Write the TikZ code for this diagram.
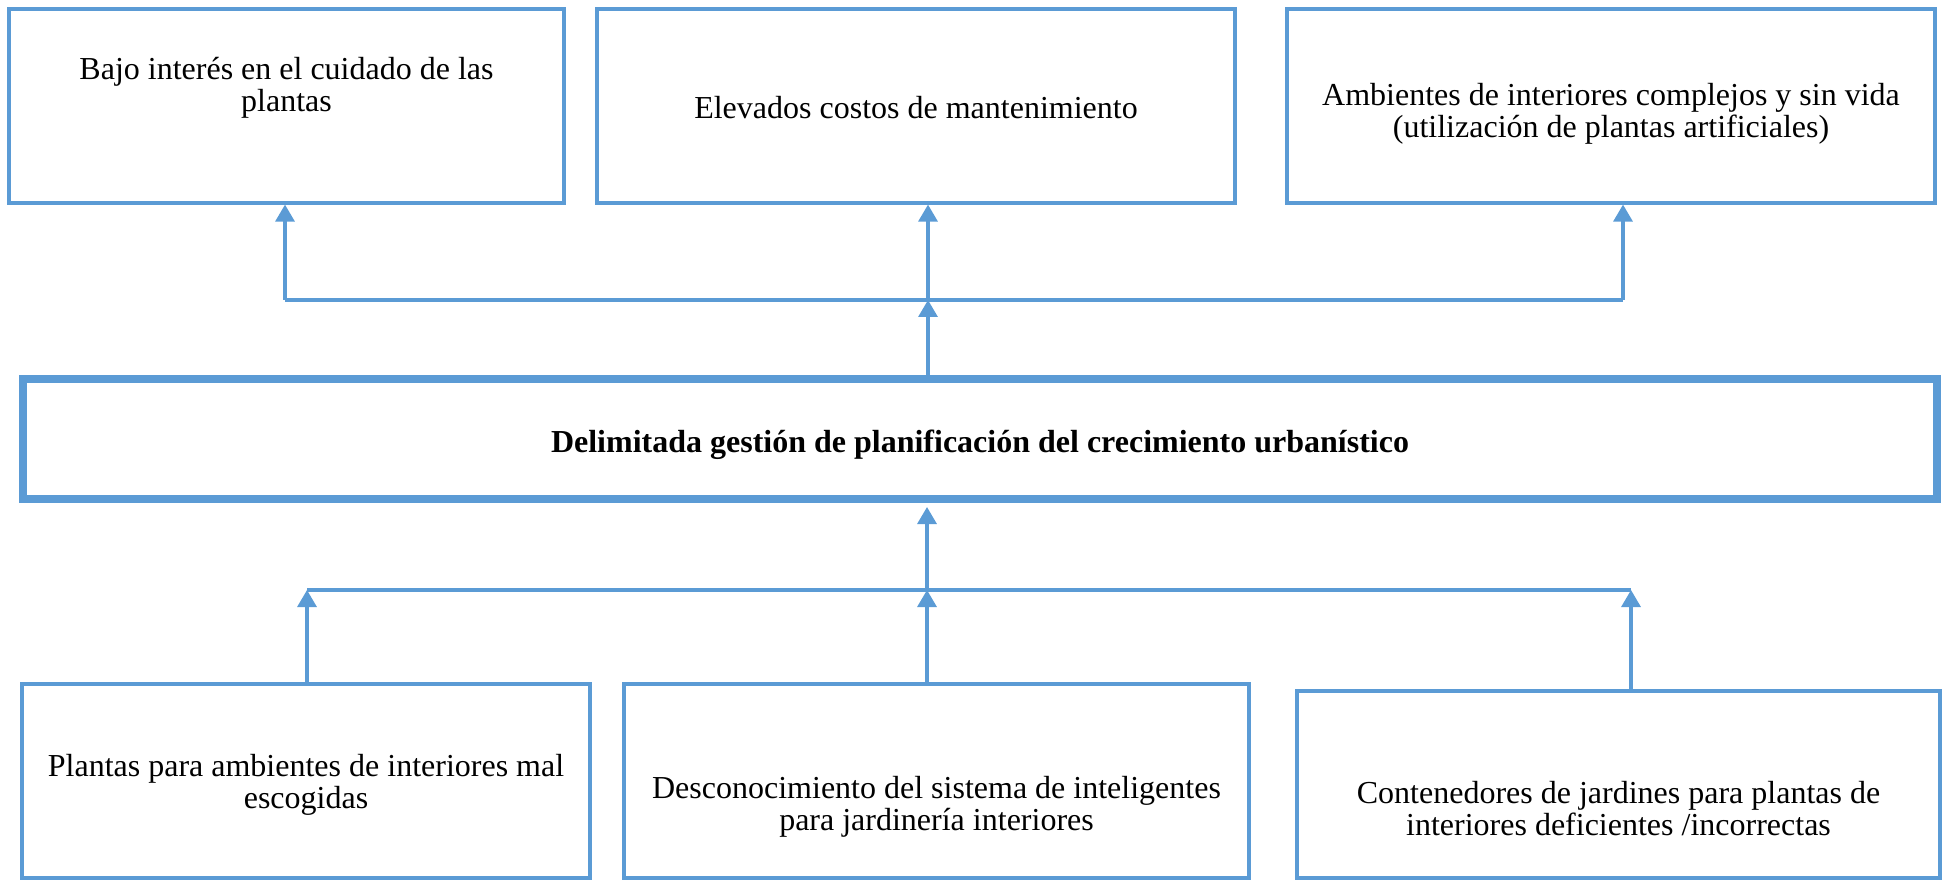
\documentclass[tikz,border=0pt]{standalone}
\usepackage{fontspec}
\setmainfont{Liberation Serif}
\usepackage{xcolor}
\usepackage{tikz}
\usetikzlibrary{positioning, arrows.meta, calc}
\definecolor{azul}{RGB}{91,155,213}

\begin{document}
\begin{tikzpicture}[x=0.5pt, y=-0.5pt,
    caja/.style={draw=azul, line width=1.6pt, rectangle, minimum height=97pt},
    texto/.style={align=center, font=\fontsize{16}{16}\selectfont},
    linea/.style={draw=azul, line width=1.6pt},
    flecha/.style={linea, -{Triangle[width=9.5pt, length=8.5pt]}}]
      \useasboundingbox (0,0) rectangle (1946,881);

      % Efectos
      \node[caja, minimum width=277.5pt] (bajo) at (286.5, 106) {};
      \node[caja, minimum width=319pt] (costos) at (916, 106) {};
      \node[caja, minimum width=324pt] (ambientes) at (1611, 106) {};

      \node[texto] (bajo-t) at ([yshift=9pt]bajo.center) {Bajo interés en el cuidado de las\\plantas};
      \node[texto] (costos-t) at ([yshift=-1pt]costos.center) {Elevados costos de mantenimiento};
      \node[texto] (ambientes-t) at ([yshift=-4pt]ambientes.center) {Ambientes de interiores complejos y sin vida\\(utilización de plantas artificiales)};

      % Problema central
      \node[caja, line width=4pt, minimum width=957pt, minimum height=60pt] (gestion) at (980, 439) {};
      \node[texto, font=\fontsize{16}{16}\selectfont\bfseries] (gestion-t) at ([yshift=-3pt]gestion.center) {Delimitada gestión de planificación del crecimiento urbanístico};

      % Causas
      \node[caja, minimum width=284pt] (plantas) at (306, 781) {};
      \node[caja, minimum width=312.5pt] (desconoc) at (936.5, 781) {};
      \node[caja, minimum width=321.5pt, minimum height=93.5pt] (contened) at (1618.5, 784.5) {};

      \node[texto] (plantas-t) at ([yshift=-2pt]plantas.center) {Plantas para ambientes de interiores mal\\escogidas};
      \node[texto] (desconoc-t) at ([yshift=-13pt]desconoc.center) {Desconocimiento del sistema de inteligentes\\para jardinería interiores};
      \node[texto] (contened-t) at ([yshift=-12pt]contened.center) {Contenedores de jardines para plantas de\\interiores deficientes /incorrectas};

      % Conectores de arriba
      \coordinate (arriba-izq) at (285, 300);
      \coordinate (arriba-c) at (928, 300);
      \coordinate (arriba-der) at (1623, 300);

      \draw[linea] (arriba-izq) -- (arriba-der);
      \draw[flecha] (gestion.north -| arriba-c) -- (arriba-c);
      \draw[flecha] (arriba-izq) -- (arriba-izq |- bajo.south);
      \draw[flecha] (arriba-c) -- (arriba-c |- costos.south);
      \draw[flecha] (arriba-der) -- (arriba-der |- ambientes.south);

      % Conectores de abajo
      \coordinate (abajo-izq) at (307, 590);
      \coordinate (abajo-c) at (927, 590);
      \coordinate (abajo-der) at (1631, 590);

      \draw[linea] (abajo-izq) -- (abajo-der);
      \draw[flecha, shorten >=2pt] (abajo-c) -- (abajo-c |- gestion.south);
      \draw[flecha] (abajo-izq |- plantas.north) -- (abajo-izq);
      \draw[flecha] (abajo-c |- desconoc.north) -- (abajo-c);
      \draw[flecha] (abajo-der |- contened.north) -- (abajo-der);
\end{tikzpicture}
\end{document}
